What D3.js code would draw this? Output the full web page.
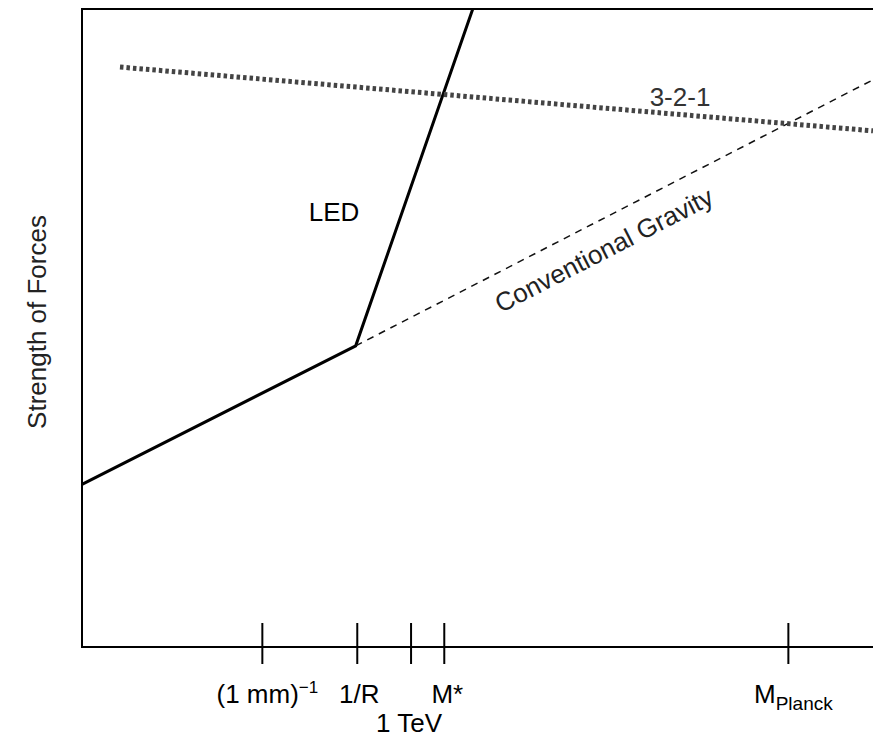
<!DOCTYPE html>
<html><head><meta charset="utf-8">
<script src="https://cdn.jsdelivr.net/npm/d3@7"></script>
<style>body{margin:0;background:#fff}text{font-family:"Liberation Sans",Arial,sans-serif}</style>
</head><body><svg id="c" width="873" height="741"></svg>
<script>
// positions in arbitrary log-energy / strength units
const tickPos = [22.8, 34.8, 41.6, 45.8, 89.3];
const ledLine = [[0, 25.5], [34.6, 47.2], [49.4, 100]];
const gravityLine = [[34.6, 47.2], [100, 88.9]];
const gutLine = [[4.8, 90.9], [100, 80.9]];

const svg = d3.select("#c");
const x = d3.scaleLinear().domain([0, 100]).range([82, 873]);
const y = d3.scaleLinear().domain([0, 100]).range([647, 9]);
const line = d3.line().x(d => x(d[0])).y(d => y(d[1]));

// frame: left, top, bottom
svg.append("path").attr("d", `M873,${y(100)}H${x(0)}V${y(0)}H873`)
	.attr("fill", "none").attr("stroke", "#000").attr("stroke-width", 2);

svg.selectAll("line.tick").data(tickPos).enter().append("line")
	.attr("x1", d => x(d)).attr("x2", d => x(d))
	.attr("y1", 623).attr("y2", 664).attr("stroke", "#000").attr("stroke-width", 2);

svg.append("path").attr("d", line(ledLine)).attr("fill", "none").attr("stroke", "#000").attr("stroke-width", 3);
svg.append("path").attr("d", line(gravityLine)).attr("fill", "none").attr("stroke", "#111")
	.attr("stroke-width", 1.5).attr("stroke-dasharray", "7,6");
svg.append("path").attr("d", line(gutLine)).attr("fill", "none").attr("stroke", "#444")
	.attr("stroke-width", 5).attr("stroke-dasharray", "3.5,3");

const fs = 26;
svg.append("text").attr("x", 334).attr("y", 221).attr("text-anchor", "middle").attr("font-size", fs).text("LED");
svg.append("text").attr("x", 680).attr("y", 106).attr("text-anchor", "middle").attr("font-size", fs).attr("fill", "#333").text("3-2-1");
svg.append("text").attr("transform", "translate(608,258) rotate(-27.2)").attr("text-anchor", "middle")
	.attr("font-size", fs).attr("fill", "#222").text("Conventional Gravity");
svg.append("text").attr("transform", "translate(46,322) rotate(-90)").attr("text-anchor", "middle")
	.attr("font-size", fs).attr("fill", "#222").text("Strength of Forces");

const lab = svg.append("g").attr("font-size", fs);
const t1 = lab.append("text").attr("x", x(tickPos[0]) + 5).attr("y", 703).attr("text-anchor", "middle");
t1.append("tspan").text("(1 mm)");
t1.append("tspan").attr("dy", -10).attr("font-size", 17).text("−1");
lab.append("text").attr("x", x(tickPos[1]) + 2).attr("y", 703).attr("text-anchor", "middle").text("1/R");
lab.append("text").attr("x", x(tickPos[2]) - 2).attr("y", 732).attr("text-anchor", "middle").text("1 TeV");
lab.append("text").attr("x", x(tickPos[3]) + 3).attr("y", 703).attr("text-anchor", "middle").text("M*");
const t5 = lab.append("text").attr("x", x(tickPos[4]) + 5).attr("y", 703).attr("text-anchor", "middle");
t5.append("tspan").text("M");
t5.append("tspan").attr("dy", 7).attr("font-size", 19).text("Planck");
</script></body></html>
